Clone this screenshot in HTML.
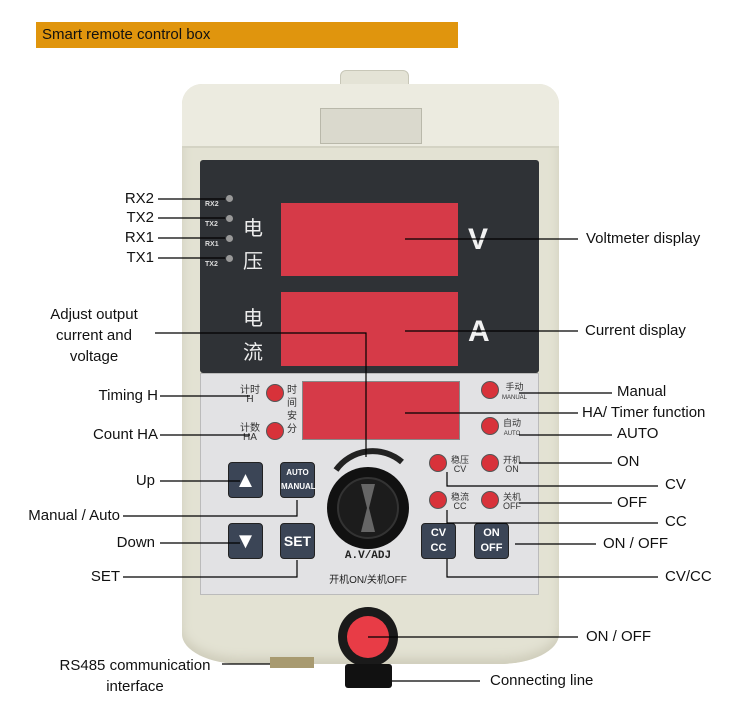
<!DOCTYPE html>
<html><head><meta charset="utf-8"><style>
body{margin:0;width:750px;height:720px;background:#fff;position:relative;overflow:hidden;font-family:"Liberation Sans","Noto Sans CJK SC",sans-serif}
.a{position:absolute}
.t{position:absolute;font-size:15px;color:#111;white-space:nowrap;line-height:18px}
.r{text-align:right}
.led{position:absolute;width:18px;height:18px;border-radius:50%;background:#d8323a;border:1px solid #555;box-sizing:border-box}
.btn{position:absolute;width:35px;height:36px;background:#3b4556;border-radius:4px;border:1px solid #222;box-sizing:border-box;color:#fff;text-align:center;font-weight:bold}
.cn{position:absolute;color:#eee;font-size:20px}
.sm{position:absolute;font-size:9px;color:#333;line-height:9px;text-align:center}
</style></head><body>
<div class="a" style="left:36px;top:22px;width:422px;height:26px;background:#e0950d"></div>
<div class="t" style="left:42px;top:26px">Smart remote control box</div>

<!-- device -->
<div class="a" style="left:340px;top:70px;width:67px;height:18px;background:#e4e3d6;border-radius:6px 6px 0 0;border:1px solid #c8c7b8"></div>
<div class="a" style="left:182px;top:84px;width:377px;height:580px;background:#e3e2d3;border-radius:20px 20px 60px 60px/20px 20px 30px 30px;box-shadow:inset 0 -6px 10px #cfcdbb"></div>
<div class="a" style="left:182px;top:84px;width:377px;height:62px;background:#ecebe0;border-radius:20px 20px 0 0;border-bottom:2px solid #d4d3c4"></div>
<div class="a" style="left:320px;top:108px;width:100px;height:34px;background:#dad9cd;border:1px solid #b9b8aa"></div>
<div class="a" style="left:200px;top:160px;width:339px;height:213px;background:#2f3236;border-radius:3px"></div>
<div class="a" style="left:281px;top:203px;width:177px;height:73px;background:#d63a48"></div>
<div class="a" style="left:281px;top:292px;width:177px;height:74px;background:#d63a48"></div>
<div class="cn" style="left:243px;top:212px">电</div>
<div class="cn" style="left:243px;top:245px">压</div>
<div class="cn" style="left:243px;top:302px">电</div>
<div class="cn" style="left:243px;top:336px">流</div>
<div class="a" style="left:468px;top:223px;font-size:30px;color:#f2f2f2;font-weight:bold">V</div>
<div class="a" style="left:468px;top:315px;font-size:30px;color:#f2f2f2;font-weight:bold">A</div>
<div class="a" style="left:205px;top:195px;font-size:7px;color:#ddd;line-height:20px;font-weight:bold">RX2<br>TX2<br>RX1<br>TX2</div>
<div class="a" style="left:226px;top:195px;width:7px;height:7px;border-radius:50%;background:#999"></div>
<div class="a" style="left:226px;top:215px;width:7px;height:7px;border-radius:50%;background:#999"></div>
<div class="a" style="left:226px;top:235px;width:7px;height:7px;border-radius:50%;background:#999"></div>
<div class="a" style="left:226px;top:255px;width:7px;height:7px;border-radius:50%;background:#999"></div>

<div class="a" style="left:200px;top:373px;width:339px;height:222px;background:#e2e2e4;border:1px solid #bbb;box-sizing:border-box"></div>
<div class="a" style="left:302px;top:381px;width:156px;height:57px;background:#d63a48;border:1px solid #888"></div>
<div class="led" style="left:266px;top:384px"></div>
<div class="led" style="left:266px;top:422px"></div>
<div class="sm" style="left:240px;top:386px;font-size:10px">计时<br>H</div>
<div class="sm" style="left:240px;top:424px;font-size:10px">计数<br>HA</div>
<div class="sm" style="left:287px;top:384px;font-size:10px;line-height:13px">时<br>间<br>安<br>分</div>
<div class="led" style="left:481px;top:381px"></div><div class="sm" style="left:502px;top:383px">手动<br><span style="font-size:6px">MANUAL</span></div>
<div class="led" style="left:481px;top:417px"></div><div class="sm" style="left:503px;top:419px">自动<br><span style="font-size:6px">AUTO</span></div>
<div class="led" style="left:429px;top:454px"></div><div class="sm" style="left:451px;top:456px">稳压<br>CV</div>
<div class="led" style="left:481px;top:454px"></div><div class="sm" style="left:503px;top:456px">开机<br>ON</div>
<div class="led" style="left:429px;top:491px"></div><div class="sm" style="left:451px;top:493px">稳流<br>CC</div>
<div class="led" style="left:481px;top:491px"></div><div class="sm" style="left:503px;top:493px">关机<br>OFF</div>

<div class="btn" style="left:228px;top:462px;font-size:22px;line-height:34px">▲</div>
<div class="btn" style="left:280px;top:462px;font-size:8px;line-height:14px;padding-top:3px">AUTO<br>MANUAL</div>
<div class="btn" style="left:228px;top:523px;font-size:22px;line-height:34px">▼</div>
<div class="btn" style="left:280px;top:523px;font-size:14px;line-height:34px">SET</div>
<div class="btn" style="left:421px;top:523px;font-size:11px;line-height:15px;padding-top:2px">CV<br>CC</div>
<div class="btn" style="left:474px;top:523px;font-size:11px;line-height:15px;padding-top:2px">ON<br>OFF</div>

<svg class="a" style="left:0;top:0" width="750" height="720">
<path d="M336 470 A45 45 0 0 1 402 462" stroke="#222" stroke-width="6" fill="none"/>
<circle cx="368" cy="508" r="41" fill="#111"/>
<circle cx="368" cy="508" r="30" fill="#1c1c1c" stroke="#333" stroke-width="2"/>
<path d="M361 484 L375 484 L369 508 L375 532 L361 532 L367 508Z" fill="#666"/>
<circle cx="368" cy="637" r="30" fill="#1a1a1a"/>
<circle cx="368" cy="637" r="21" fill="#e83c46"/>
<rect x="345" y="664" width="47" height="24" rx="3" fill="#111"/>
<rect x="270" y="657" width="44" height="11" fill="#a89a70"/>
<g stroke="#000" stroke-width="1.2" fill="none">
<path d="M158 199H225M158 218H225M158 238H225M158 258H225"/>
<path d="M155 333H366V457"/>
<path d="M405 239H578M405 331H578M405 413H578"/>
<path d="M160 396H250M160 435H250"/>
<path d="M519 393H612M519 435H612M519 463H612M519 503H612"/>
<path d="M447 472V486H658M447 510V523H658M447 559V577H658"/>
<path d="M515 544H596"/>
<path d="M160 481H240M160 543H240"/>
<path d="M123 516H297V500M123 577H297V560"/>
<path d="M368 637H578M222 664H270M392 681H480"/>
</g>
</svg>
<div class="a" style="left:300px;top:550px;width:136px;text-align:center;font-size:11px;font-family:'Liberation Mono',monospace;color:#222;font-weight:bold">A.V/ADJ</div>
<div class="a" style="left:300px;top:571px;width:136px;text-align:center;font-size:10px;color:#222">开机ON/关机OFF</div>

<div class="t r" style="right:596px;top:190px">RX2</div>
<div class="t r" style="right:596px;top:209px">TX2</div>
<div class="t r" style="right:596px;top:229px">RX1</div>
<div class="t r" style="right:596px;top:249px">TX1</div>
<div class="t" style="left:34px;top:304px;width:120px;text-align:center;line-height:21px;white-space:normal">Adjust output current and voltage</div>
<div class="t" style="left:586px;top:230px">Voltmeter display</div>
<div class="t" style="left:585px;top:322px">Current display</div>
<div class="t r" style="right:592px;top:387px">Timing H</div>
<div class="t r" style="right:592px;top:426px">Count HA</div>
<div class="t" style="left:617px;top:383px">Manual</div>
<div class="t" style="left:582px;top:404px">HA/ Timer function</div>
<div class="t" style="left:617px;top:425px">AUTO</div>
<div class="t" style="left:617px;top:453px">ON</div>
<div class="t" style="left:665px;top:476px">CV</div>
<div class="t" style="left:617px;top:494px">OFF</div>
<div class="t" style="left:665px;top:513px">CC</div>
<div class="t" style="left:603px;top:535px">ON / OFF</div>
<div class="t" style="left:665px;top:568px">CV/CC</div>
<div class="t r" style="right:595px;top:472px">Up</div>
<div class="t r" style="right:630px;top:507px">Manual / Auto</div>
<div class="t r" style="right:595px;top:534px">Down</div>
<div class="t r" style="right:630px;top:568px">SET</div>
<div class="t" style="left:586px;top:628px">ON / OFF</div>
<div class="t" style="left:40px;top:655px;width:190px;text-align:center;line-height:21px">RS485 communication<br>interface</div>
<div class="t" style="left:490px;top:672px">Connecting line</div>
</body></html>
